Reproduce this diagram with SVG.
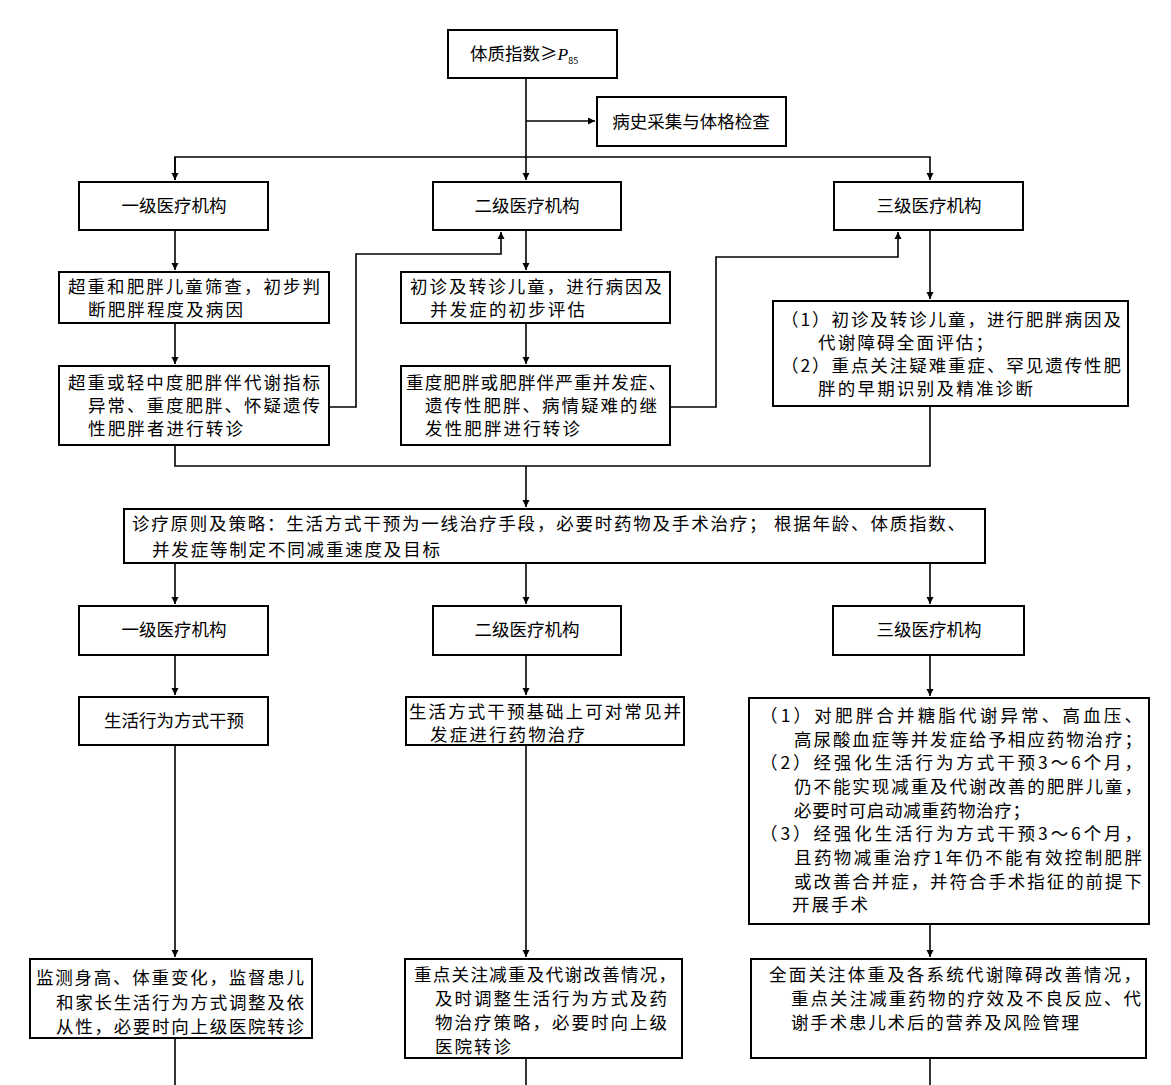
<svg xmlns="http://www.w3.org/2000/svg" width="1171" height="1085" viewBox="0 0 1171 1085">
<style>
rect{fill:#fff;stroke:#000;stroke-width:2}
text{font-family:"Noto Sans CJK SC","Liberation Serif",serif;font-size:17.5px;fill:#000}
.c{text-anchor:middle}
#conn path{fill:none;stroke:#000;stroke-width:1.6}
</style>
<defs><marker id="a" viewBox="0 0 10 10" refX="10" refY="5" markerWidth="7" markerHeight="9" orient="auto" markerUnits="userSpaceOnUse"><path d="M0,0L10,5L0,10z" fill="#000"/></marker></defs>
<rect x="0" y="0" width="1171" height="1085" style="stroke:none"/>
<g id="conn">
<path d="M526,78V180" marker-end="url(#a)"/>
<path d="M526,121H595" marker-end="url(#a)"/>
<path d="M175,180V157H930V180" marker-end="url(#a)"/>
<path d="M175,157V180" marker-end="url(#a)"/>
<path d="M175,230V270" marker-end="url(#a)"/>
<path d="M175,323V364" marker-end="url(#a)"/>
<path d="M526,230V270" marker-end="url(#a)"/>
<path d="M526,323V364" marker-end="url(#a)"/>
<path d="M930,230V299" marker-end="url(#a)"/>
<path d="M329,407H356V254H501V232" marker-end="url(#a)"/>
<path d="M670,407H716V257H898V232" marker-end="url(#a)"/>
<path d="M175,445V466H930V406"/>
<path d="M526,466V507" marker-end="url(#a)"/>
<path d="M175,563V604" marker-end="url(#a)"/>
<path d="M526,563V604" marker-end="url(#a)"/>
<path d="M930,563V604" marker-end="url(#a)"/>
<path d="M175,655V695" marker-end="url(#a)"/>
<path d="M526,655V695" marker-end="url(#a)"/>
<path d="M930,655V696" marker-end="url(#a)"/>
<path d="M175,745V957" marker-end="url(#a)"/>
<path d="M526,745V957" marker-end="url(#a)"/>
<path d="M930,924V957" marker-end="url(#a)"/>
<path d="M175,1038V1085"/>
<path d="M526,1058V1085"/>
<path d="M930,1058V1085"/>
</g>
<g id="top"><rect x="448" y="30" width="169" height="48"/><text x="470" y="60">体质指数≥<tspan font-family="Liberation Serif" font-style="italic">P</tspan><tspan font-size="9" dy="4">85</tspan></text></g>
<g id="hist"><rect x="597" y="97" width="189" height="49"/><text class="c" x="691" y="128">病史采集与体格检查</text></g>
<g id="l1a"><rect x="79" y="182" width="189" height="48"/><text class="c" x="174" y="212">一级医疗机构</text></g>
<g id="l1b"><rect x="433" y="182" width="188" height="48"/><text class="c" x="527" y="212">二级医疗机构</text></g>
<g id="l1c"><rect x="834" y="182" width="189" height="48"/><text class="c" x="929" y="212">三级医疗机构</text></g>
<g id="a1"><rect x="59" y="272" width="270" height="51"/><text x="68" y="293" textLength="252">超重和肥胖儿童筛查，初步判</text><text x="88" y="316" textLength="155">断肥胖程度及病因</text></g>
<g id="b1"><rect x="401" y="272" width="269" height="51"/><text x="410" y="293" textLength="252">初诊及转诊儿童，进行病因及</text><text x="430" y="316" textLength="155">并发症的初步评估</text></g>
<g id="c1"><rect x="773" y="301" width="355" height="105"/><text x="781" y="326" textLength="340">（1）初诊及转诊儿童，进行肥胖病因及</text><text x="818" y="349" textLength="175">代谢障碍全面评估；</text><text x="781" y="372" textLength="340">（2）重点关注疑难重症、罕见遗传性肥</text><text x="818" y="395" textLength="215">胖的早期识别及精准诊断</text></g>
<g id="a2"><rect x="59" y="366" width="270" height="79"/><text x="68" y="389" textLength="252">超重或轻中度肥胖伴代谢指标</text><text x="88" y="412" textLength="232">异常、重度肥胖、怀疑遗传</text><text x="88" y="435" textLength="155">性肥胖者进行转诊</text></g>
<g id="b2"><rect x="401" y="366" width="269" height="79"/><text x="406" y="389" textLength="260">重度肥胖或肥胖伴严重并发症、</text><text x="425" y="412" textLength="232">遗传性肥胖、病情疑难的继</text><text x="425" y="435" textLength="155">发性肥胖进行转诊</text></g>
<g id="strat"><rect x="124" y="509" width="861" height="54"/><text x="132" y="530" textLength="833">诊疗原则及策略：生活方式干预为一线治疗手段，必要时药物及手术治疗； 根据年龄、体质指数、</text><text x="152" y="556" textLength="288">并发症等制定不同减重速度及目标</text></g>
<g id="l2a"><rect x="79" y="606" width="189" height="49"/><text class="c" x="174" y="636">一级医疗机构</text></g>
<g id="l2b"><rect x="433" y="606" width="188" height="49"/><text class="c" x="527" y="636">二级医疗机构</text></g>
<g id="l2c"><rect x="833" y="606" width="191" height="49"/><text class="c" x="929" y="636">三级医疗机构</text></g>
<g id="a3"><rect x="79" y="697" width="189" height="48"/><text class="c" x="174" y="727">生活行为方式干预</text></g>
<g id="b3"><rect x="406" y="697" width="278" height="48"/><text x="409" y="718" textLength="272">生活方式干预基础上可对常见并</text><text x="430" y="741" textLength="155">发症进行药物治疗</text></g>
<g id="c3"><rect x="749" y="698" width="400" height="226"/>
<text x="760" y="722" textLength="382">（1）对肥胖合并糖脂代谢异常、高血压、</text>
<text x="794" y="746" textLength="348">高尿酸血症等并发症给予相应药物治疗；</text>
<text x="760" y="769" textLength="382">（2）经强化生活行为方式干预3～6个月，</text>
<text x="794" y="793" textLength="348">仍不能实现减重及代谢改善的肥胖儿童，</text>
<text x="794" y="817" textLength="236">必要时可启动减重药物治疗；</text>
<text x="760" y="840" textLength="382">（3）经强化生活行为方式干预3～6个月，</text>
<text x="794" y="864" textLength="348">且药物减重治疗1年仍不能有效控制肥胖</text>
<text x="794" y="888" textLength="348">或改善合并症，并符合手术指征的前提下</text>
<text x="792" y="911" textLength="76">开展手术</text></g>
<g id="a4"><rect x="30" y="959" width="282" height="79"/><text x="36" y="984" textLength="268">监测身高、体重变化，监督患儿</text><text x="56" y="1009" textLength="248">和家长生活行为方式调整及依</text><text x="56" y="1033" textLength="248">从性，必要时向上级医院转诊</text></g>
<g id="b4"><rect x="405" y="959" width="277" height="99"/><text x="414" y="981" textLength="262">重点关注减重及代谢改善情况，</text><text x="435" y="1005" textLength="232">及时调整生活行为方式及药</text><text x="435" y="1029" textLength="232">物治疗策略，必要时向上级</text><text x="435" y="1053" textLength="76">医院转诊</text></g>
<g id="c4"><rect x="751" y="959" width="395" height="99"/><text x="769" y="981" textLength="372">全面关注体重及各系统代谢障碍改善情况，</text><text x="791" y="1005" textLength="350">重点关注减重药物的疗效及不良反应、代</text><text x="791" y="1029" textLength="288">谢手术患儿术后的营养及风险管理</text></g>
</svg>
